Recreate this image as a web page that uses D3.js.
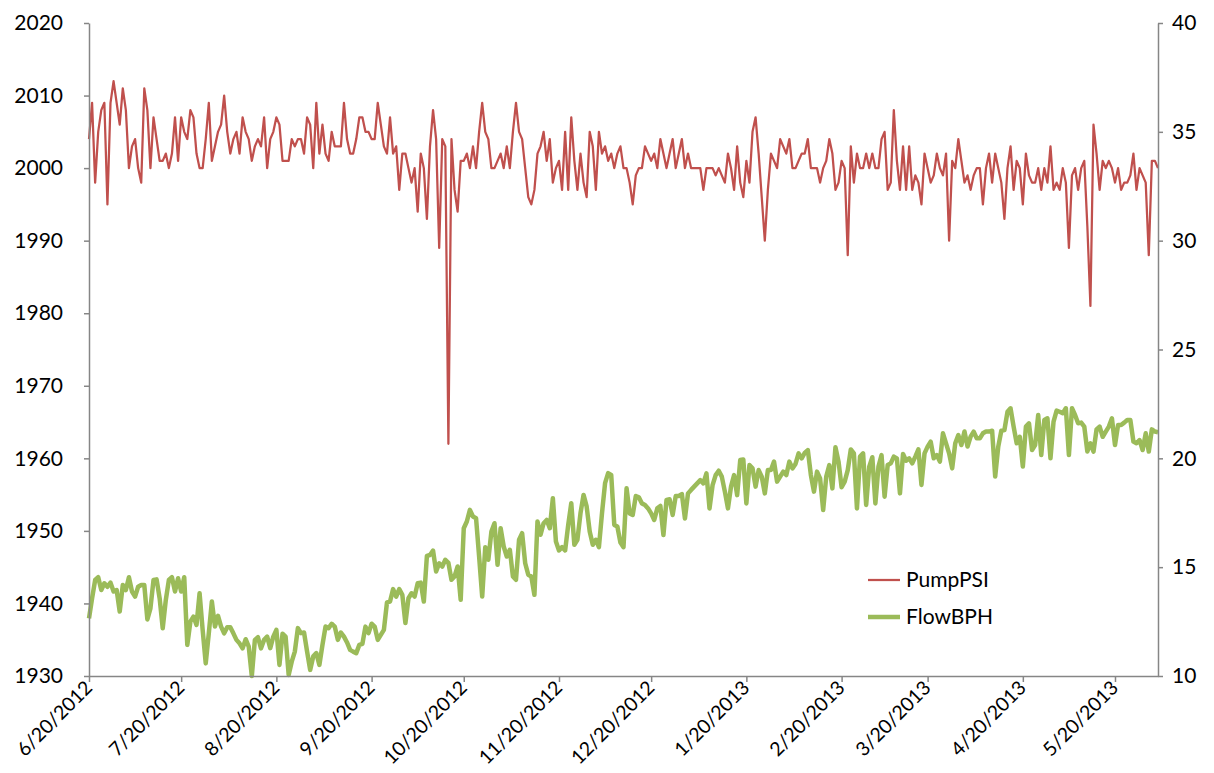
<!DOCTYPE html>
<html>
<head>
<meta charset="utf-8">
<script src="https://cdn.jsdelivr.net/npm/d3@7"></script>
<style>
  body { margin: 0; background: #fff; }
  text { font-family: Lato, "Open Sans", "DejaVu Sans", sans-serif; fill: #000; }
</style>
</head>
<body>
<div id="chart"></div>
<script>
// Daily readings, starting 6/20/2012
const startDate = "6/20/2012";

// PumpPSI (left axis)
const pumpPSI = [
  2004, 2009, 1998, 2005, 2008, 2009, 1995, 2009, 2012, 2009,
  2006, 2011, 2008, 2000, 2003, 2004, 2000, 1998, 2011, 2008,
  2000, 2007, 2004, 2001, 2001, 2002, 2000, 2002, 2007, 2001,
  2007, 2005, 2004, 2008, 2007, 2002, 2000, 2000, 2004, 2009,
  2001, 2003, 2005, 2006, 2010, 2005, 2002, 2004, 2005, 2002,
  2007, 2005, 2004, 2001, 2003, 2004, 2003, 2007,
  2000, 2004, 2005, 2007, 2006, 2001, 2001, 2001, 2004, 2003,
  2004, 2004, 2002, 2007, 2006, 2000, 2009, 2002, 2006, 2002,
  2001, 2005, 2003, 2003, 2003, 2009, 2004, 2002, 2002, 2004,
  2007, 2007, 2005, 2005, 2004, 2004, 2009, 2006, 2003, 2002,
  2007, 2002, 2003, 1997, 2002, 2002, 2000, 1998, 2000, 1994,
  2002, 2000, 1993, 2003, 2008, 2004, 1989, 2004,
  2003, 1962,
  2004, 1997, 1994, 2001, 2001, 2002, 2000, 2003, 2000, 2005,
  2009, 2005, 2004, 2000, 2000, 2001, 2002, 2000, 2003, 2000,
  2005, 2009, 2005, 2004, 2000, 1996, 1995, 1997, 2002, 2003,
  2005, 2001, 2004, 1998, 2000, 2001, 1997, 2005, 1997, 2007,
  2001, 1997, 2002, 1998, 1996, 2005, 2003, 1997, 2005, 2002,
  2003, 2001, 2002, 2000, 2002, 2003, 2000,
  2000, 1998, 1995, 1999, 2000, 2000, 2003, 2002, 2001, 2002,
  2000, 2004, 2002, 2000, 2002, 2004, 2000, 2002, 2004, 2000,
  2002, 2000, 2000, 2000, 2000, 1997, 2000, 2000, 2000, 1999,
  2000, 1999, 1998, 2002, 2000, 1997, 2003, 1998, 1996, 2001,
  1998, 2005, 2007, 2002, 1996, 1990, 1997, 2002, 2001, 2000,
  2004, 2003, 2002, 2004, 2000, 2000, 2001, 2002,
  2002, 2004, 2000, 2000, 2000, 1998, 2000, 2001, 2004, 2002,
  1997, 1998, 2001, 2000, 1988, 2003, 1998, 2002, 2000, 2000,
  2002, 2000, 2002, 2000, 2000, 2004, 2005, 1997, 1998, 2008,
  2001, 1997, 2003, 1997, 2003, 1997, 1999, 1998, 1995, 2002,
  2000, 1998, 1999, 2002, 2000, 1999, 2002, 1990, 2001, 2000,
  2004, 2001, 1998, 1999, 1997, 1999, 2000, 2000, 1995,
  2000, 2002, 1998, 2002, 2000, 1998, 1993, 2000, 2003, 1997,
  2001, 2000, 1995, 2002, 1999, 1998, 1998, 2000, 1997, 2000,
  1998, 2003, 1997, 1998, 1997, 2000, 1998, 1989, 1999, 2000,
  1997, 2000, 2001, 1992, 1981, 2006, 2002, 1997, 2001, 2000,
  2001, 2000, 1998, 2000, 1997, 1998, 1998, 1999, 2002, 1997,
  2000, 1999, 1998, 1988, 2001, 2001, 2000
];

// FlowBPH (right axis)
const flowBPH = [
  12.65, 13.57, 14.41, 14.54, 13.95, 14.26, 14.1, 14.29, 13.88, 13.95,
  12.96, 14.18, 13.95, 14.54, 13.88, 13.65, 14.1, 14.18, 14.18, 12.6,
  13.11, 14.41, 14.44, 13.57, 12.19, 13.49, 14.41, 14.54, 13.88, 14.49,
  13.88, 14.54, 11.43, 12.5, 12.73, 12.35, 13.8, 12.12, 10.58, 11.96,
  13.42, 12.27, 12.76, 12.27, 11.96, 12.24, 12.24, 11.96, 11.66, 11.5,
  11.27, 11.69, 11.35, 10.0, 11.66, 11.78, 11.27, 11.66,
  11.81, 11.28, 11.81, 12.12, 10.51, 11.94, 11.81, 10.05, 10.66, 11.12,
  12.2, 11.97, 12.0, 11.12, 10.28, 10.9, 11.05, 10.51, 11.43, 12.27,
  12.2, 12.4, 12.27, 11.66, 12.0, 11.81, 11.54, 11.2, 11.12, 11.05,
  11.43, 11.48, 12.27, 11.97, 12.4, 12.27, 11.66, 11.89, 12.12, 13.38,
  13.42, 13.99, 13.65, 13.99, 13.73, 12.43, 13.57, 13.8, 13.65, 14.26,
  14.29, 13.42, 15.52, 15.56, 15.76, 14.8, 15.18, 15.03, 15.34,
  15.2, 14.42, 14.57, 15.03, 13.5, 16.79, 17.1, 17.63, 17.33, 17.25,
  15.49, 13.65, 15.92, 15.34, 16.64, 17.02, 15.11, 16.79, 15.95, 15.49,
  15.8, 14.57, 14.42, 16.26, 16.56, 15.18, 14.65, 14.57, 13.73, 17.1,
  16.49, 17.02, 17.17, 16.79, 18.17, 16.18, 15.77, 15.92, 15.77, 16.94,
  17.94, 16.03, 16.26, 17.48, 18.32, 17.79, 16.64, 16.03, 16.26, 15.92,
  17.48, 18.86, 19.32, 19.24, 16.94, 16.87, 16.13, 15.92,
  18.62, 17.47, 17.4, 18.27, 18.21, 17.93, 17.86, 17.7, 17.47, 17.17,
  17.7, 17.81, 16.48, 18.09, 18.12, 17.4, 18.27, 18.27, 18.36, 17.24,
  18.39, 18.55, 18.7, 18.85, 19.0, 18.85, 19.31, 17.7, 18.77, 19.23,
  19.43, 19.16, 18.47, 17.7, 18.7, 19.23, 18.31, 19.92, 19.95, 17.93,
  19.69, 19.54, 18.7, 19.46, 19.16, 18.39, 19.46, 19.46, 19.85, 18.93,
  19.16, 19.39, 19.23, 19.85, 19.54, 19.74, 20.23, 20.0,
  20.25, 20.38, 19.23, 18.47, 19.39, 19.08, 17.63, 19.16, 19.69, 18.62,
  20.51, 19.85, 18.67, 18.93, 19.46, 20.41, 20.23, 17.7, 20.08, 20.23,
  17.86, 19.62, 20.05, 17.93, 19.62, 20.15, 18.24, 19.69, 19.77, 20.08,
  20.0, 18.39, 20.2, 19.89, 20.0, 19.77, 20.08, 20.41, 18.78, 20.23,
  20.54, 20.77, 20.0, 20.15, 19.85, 21.15, 20.69, 20.23, 19.54, 20.69,
  21.07, 20.61, 21.23, 20.54, 21.0, 21.23, 20.92, 20.92, 21.15,
  21.23, 21.23, 21.27, 19.16, 20.54, 21.27, 21.3, 22.14, 22.3, 21.46,
  20.69, 20.99, 19.62, 21.46, 21.61, 20.38, 20.61, 21.99, 20.15, 21.76,
  21.84, 20.0, 21.69, 22.19, 22.14, 22.07, 22.3, 20.15, 22.3, 21.99,
  21.61, 21.64, 21.46, 20.31, 20.69, 20.31, 21.33, 21.46, 20.99, 21.23,
  21.46, 21.84, 20.61, 21.53, 21.53, 21.64, 21.76, 21.76, 20.77, 20.69,
  20.84, 20.38, 21.15, 20.31, 21.33, 21.23, 21.2
];

const xTickLabels = ["6/20/2012", "7/20/2012", "8/20/2012", "9/20/2012", "10/20/2012",
  "11/20/2012", "12/20/2012", "1/20/2013", "2/20/2013", "3/20/2013", "4/20/2013", "5/20/2013"];
const leftTicks = [1930, 1940, 1950, 1960, 1970, 1980, 1990, 2000, 2010, 2020];
const rightTicks = [10, 15, 20, 25, 30, 35, 40];
const seriesNames = ["PumpPSI", "FlowBPH"];

const width = 1214, height = 773;
const margin = { left: 89, right: 56, top: 23, bottom: 97 };
const colors = { psi: "#C0504D", flow: "#9BBB59", axis: "#868686" };

const parseDate = d3.timeParse("%m/%d/%Y");
const start = parseDate(startDate);
const dates = pumpPSI.map((d, i) => d3.timeDay.offset(start, i));

const svg = d3.select("#chart")
  .append("svg")
  .attr("width", width)
  .attr("height", height);

const x = d3.scaleTime()
  .domain([dates[0], dates[dates.length - 1]])
  .range([margin.left, width - margin.right]);

const yLeft = d3.scaleLinear()
  .domain([1930, 2020])
  .range([height - margin.bottom, margin.top]);

const yRight = d3.scaleLinear()
  .domain([10, 40])
  .range([height - margin.bottom, margin.top]);

// Lines
const psiLine = d3.line()
  .x((d, i) => x(dates[i]))
  .y(d => yLeft(d));

const flowLine = d3.line()
  .x((d, i) => x(dates[i]))
  .y(d => yRight(d));

svg.append("path")
  .datum(pumpPSI)
  .attr("fill", "none")
  .attr("stroke", colors.psi)
  .attr("stroke-width", 2.25)
  .attr("stroke-linejoin", "round")
  .attr("d", psiLine);

svg.append("path")
  .datum(flowBPH)
  .attr("fill", "none")
  .attr("stroke", colors.flow)
  .attr("stroke-width", 4.5)
  .attr("stroke-linejoin", "round")
  .attr("d", flowLine);

// Axes
const leftAxis = svg.append("g")
  .attr("transform", `translate(${margin.left},0)`)
  .call(d3.axisLeft(yLeft).tickValues(leftTicks).tickFormat(d3.format("d"))
    .tickSize(5).tickSizeOuter(0).tickPadding(21));

const rightAxis = svg.append("g")
  .attr("transform", `translate(${width - margin.right},0)`)
  .call(d3.axisRight(yRight).tickValues(rightTicks)
    .tickSize(5).tickSizeOuter(0).tickPadding(9));

const tickDates = xTickLabels.map(parseDate);
const bottomAxis = svg.append("g")
  .attr("transform", `translate(0,${height - margin.bottom})`)
  .call(d3.axisBottom(x).tickValues(tickDates).tickFormat((d, i) => xTickLabels[i])
    .tickSize(6).tickSizeOuter(0));

[leftAxis, rightAxis, bottomAxis].forEach(a => {
  a.selectAll(".domain").attr("stroke", colors.axis).attr("stroke-width", 1.5);
  a.selectAll(".tick line").attr("stroke", colors.axis).attr("stroke-width", 1.5);
  a.selectAll("text").style("font-size", "21px").attr("fill", "#000");
});

bottomAxis.selectAll(".tick text")
  .attr("text-anchor", "end")
  .attr("dy", 0)
  .attr("y", 0)
  .style("font-size", "19.5px")
  .attr("transform", "translate(4,13) rotate(-45)");

// Legend
const legend = svg.append("g").attr("transform", "translate(868,580)");
const legendItems = [
  { name: seriesNames[0], color: colors.psi, w: 2.25 },
  { name: seriesNames[1], color: colors.flow, w: 4.5 }
];
legendItems.forEach((item, i) => {
  const row = legend.append("g").attr("transform", `translate(0,${i * 37})`);
  row.append("line")
    .attr("x1", 0).attr("x2", 32)
    .attr("stroke", item.color)
    .attr("stroke-width", item.w);
  row.append("text")
    .attr("x", 38)
    .attr("dy", "0.35em")
    .style("font-size", "21px")
    .text(item.name);
});
</script>
</body>
</html>
